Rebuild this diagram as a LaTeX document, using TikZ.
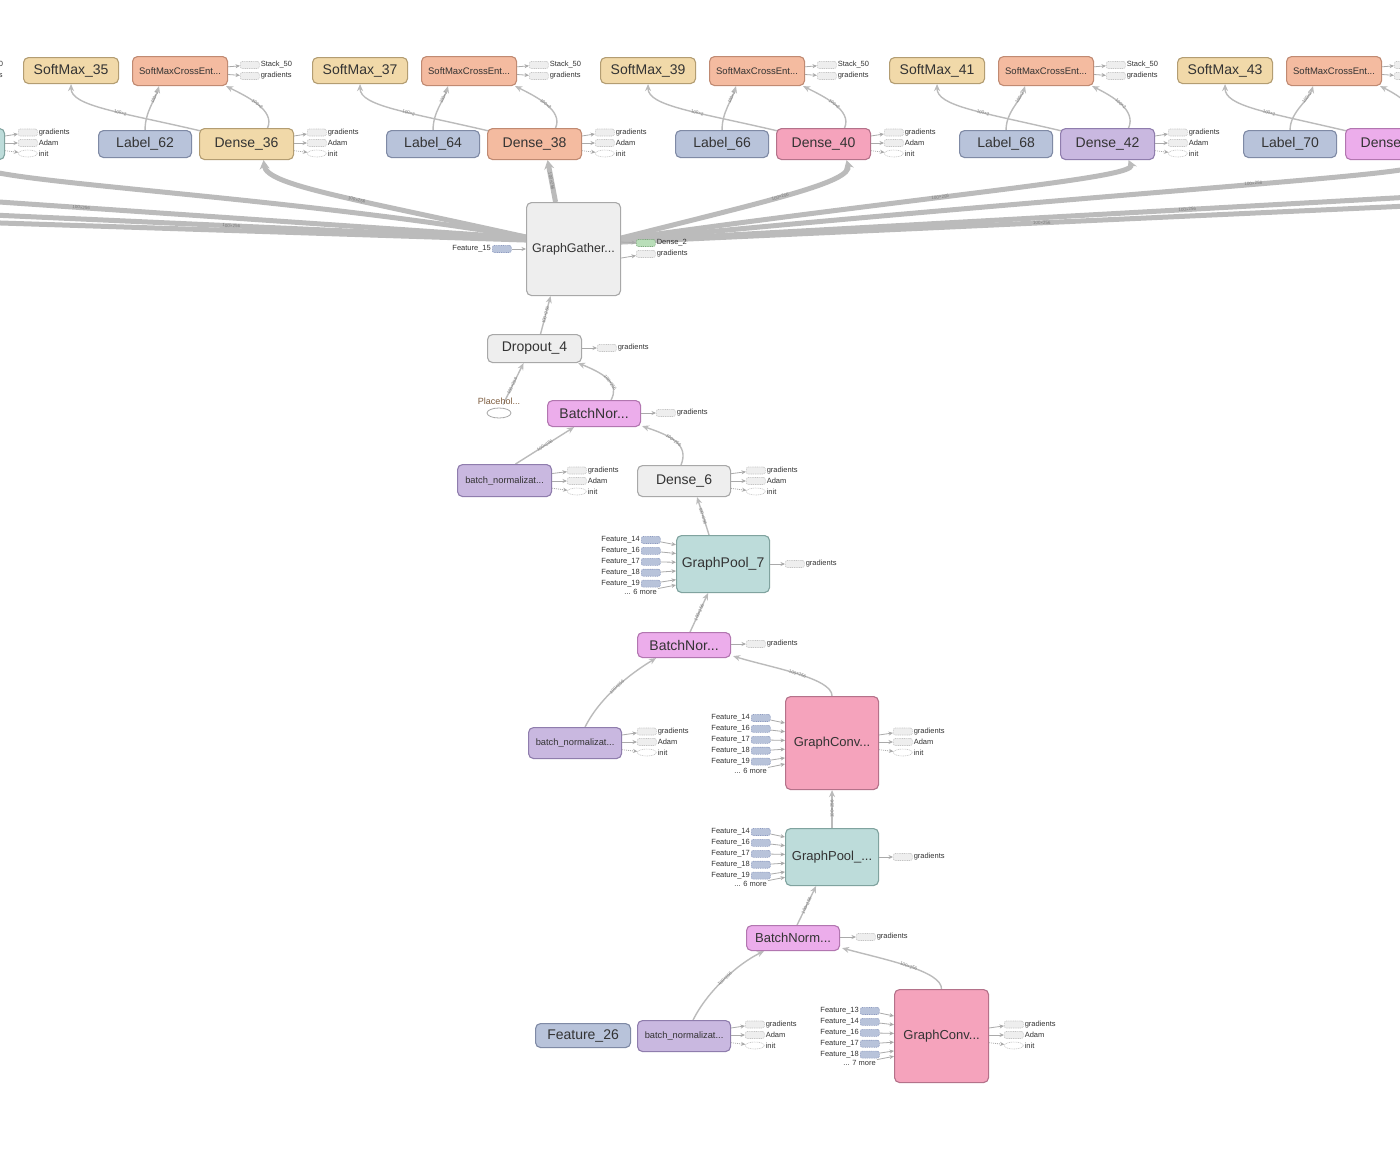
\documentclass[tikz,border=0pt]{standalone}
\usepackage{fontspec}
\setmainfont{Liberation Sans}
\usetikzlibrary{arrows.meta,calc,shapes.geometric}
\pgfdeclarelayer{back}\pgfdeclarelayer{bg}\pgfsetlayers{back,bg,main}
\definecolor{txt}{HTML}{333333}
\definecolor{tanF}{HTML}{F1D9A9}\definecolor{tanD}{HTML}{B39D72}
\definecolor{salF}{HTML}{F4BBA0}\definecolor{salD}{HTML}{C08A72}
\definecolor{lblF}{HTML}{B8C3DA}\definecolor{lblD}{HTML}{7F8AA5}
\definecolor{pinkF}{HTML}{F5A3BC}\definecolor{pinkD}{HTML}{B4728A}
\definecolor{purF}{HTML}{C9B8E0}\definecolor{purD}{HTML}{8F7DAD}
\definecolor{magF}{HTML}{ECADEB}\definecolor{magD}{HTML}{B276B0}
\definecolor{tealF}{HTML}{BDDCDA}\definecolor{tealD}{HTML}{80A39F}
\definecolor{grayF}{HTML}{EEEEEE}\definecolor{grayD}{HTML}{A8A8A8}
\definecolor{stubF}{HTML}{EEEEEE}\definecolor{stubD}{HTML}{C4C4C4}
\definecolor{featF}{HTML}{B8C3DA}\definecolor{featD}{HTML}{8D9BC0}
\definecolor{grnF}{HTML}{B9DEB9}\definecolor{grnD}{HTML}{7DAA7D}
\definecolor{edgeC}{HTML}{BBBBBB}
\definecolor{arrC}{HTML}{AAAAAA}
\definecolor{elabC}{HTML}{7A7A7A}
\definecolor{phC}{HTML}{7D5C3E}
\newcommand\fs[1]{\fontsize{#1}{#1}\selectfont}
\tikzset{
  nbox/.style={draw, rounded corners=5pt, line width=1.1pt, inner sep=0pt, anchor=north west, text=txt, font=\fs{14}},
  tanb/.style={fill=tanF, draw=tanD},
  salb/.style={fill=salF, draw=salD},
  lblb/.style={fill=lblF, draw=lblD},
  pinkb/.style={fill=pinkF, draw=pinkD},
  purb/.style={fill=purF, draw=purD},
  magb/.style={fill=magF, draw=magD},
  tealb/.style={fill=tealF, draw=tealD},
  grayb/.style={fill=grayF, draw=grayD},
  stubg/.style={draw=stubD, fill=stubF, dash pattern=on 1pt off 0.8pt, rounded corners=2pt, minimum width=19pt, minimum height=7pt, inner sep=0pt, line width=0.6pt},
  stubi/.style={ellipse, draw=stubD, fill=white, dash pattern=on 1pt off 0.8pt, minimum width=19pt, minimum height=7pt, inner sep=0pt, line width=0.6pt},
  fstub/.style={stubg, fill=featF, draw=featD},
  gstub/.style={stubg, fill=grnF, draw=grnD},
  slabel/.style={font=\fs{7.5}, text=txt, inner sep=1pt},
  sarrow/.style={draw=arrC, line width=0.8pt, -{Stealth[length=4.5pt,width=4pt]}},
  iarrow/.style={sarrow, dash pattern=on 1pt off 1pt},
  edge/.style={draw=edgeC, line width=1.4pt, -{Stealth[length=7pt,width=6pt]}},
  fatline/.style={draw=edgeC, line width=5pt},
  fatedge/.style={fatline, -{Stealth[length=9pt,width=10pt]}},
  elab/.style={font=\fs{4.5}, text=elabC, sloped, inner sep=0.5pt},
}
% gradients / Adam / init stubs
\newcommand\gai[3]{%
  \node[stubg,anchor=west] (#1g) at (#2,#3-10.5) {};
  \node[stubg,anchor=west] (#1a) at (#2,#3) {};
  \node[stubi,anchor=west] (#1i) at (#2,#3+10.5) {};
  \node[slabel,anchor=west] (#1gl) at (#1g.east) {gradients};
  \node[slabel,anchor=west] (#1al) at (#1a.east) {Adam};
  \node[slabel,anchor=west] (#1il) at (#1i.east) {init};
  \draw[sarrow] ($(#1.east)!0.7!(#1.east |- #1g)$) -- (#1g);
  \draw[sarrow] (#1.east |- #1a) -- (#1a);
  \draw[iarrow] ($(#1.east)!0.7!(#1.east |- #1i)$) -- (#1i);
}
% single gradients stub
\newcommand\gonly[3]{%
  \node[stubg,anchor=west] (#1g) at (#2,#3) {};
  \node[slabel,anchor=west] (#1gl) at (#1g.east) {gradients};
  \draw[sarrow] (#1.east |- #1g) -- (#1g);
}
% feature inputs: #1 node, #2 stub x, #3 first y, #4 list, #5 more text, #6 more y
\newcommand\feats[6]{%
  \foreach \n [count=\i] in {#4} {
    \node[fstub,anchor=west] (#1f\i) at (#2,#3+10.9*\i-10.9) {};
    \node[slabel,anchor=east] (#1fl\i) at (#1f\i.west) {Feature\_\n};
    \draw[sarrow] (#1f\i) -- ($(#1.west)!0.8!(#1.west |- #1f\i)$);
  }
  \node[slabel,anchor=east] (#1m) at (#2+17,#6) {#5};
  \draw[sarrow] (#1m) -- ($(#1.west)!0.75!(#1.west |- #1m)$);
}
% top group: #1 id, #2 softmax x, #3 softmax text, #4 label x, #5 label text, #6 dense x, #7 dense text, #8 dense style, #9 edge label
\newcommand\topgroup[9]{%
  \node[nbox,tanb,minimum width=95pt,minimum height=26pt] (sm#1) at (#2,57) {#3};
  \node[nbox,salb,font=\fs{9.5},minimum width=95pt,minimum height=29pt] (ce#1) at (#2+109,56) {SoftMaxCrossEnt...};
  \node[stubg,anchor=west] (ce#1s) at (#2+217,65) {};
  \node[stubg,anchor=west] (ce#1g) at (#2+217,76) {};
  \node[slabel,anchor=west] (ce#1sl) at (ce#1s.east) {Stack\_50};
  \node[slabel,anchor=west] (ce#1gl) at (ce#1g.east) {gradients};
  \draw[sarrow] ($(ce#1.east)!0.7!(ce#1.east |- ce#1s)$) -- (ce#1s);
  \draw[sarrow] ($(ce#1.east)!0.7!(ce#1.east |- ce#1g)$) -- (ce#1g);
  \node[nbox,lblb,minimum width=93pt,minimum height=27pt] (lb#1) at (#4,130) {#5};
  \node[nbox,#8,minimum width=94pt,minimum height=31pt] (de#1) at (#6,128) {#7};
  \gai{de#1}{#6+108}{143}
  \begin{pgfonlayer}{bg}
    \draw[edge] ($(de#1.north west)+(2,3)$) .. controls +(-81,-19) and +(0,22) .. (sm#1.south) node[elab,pos=0.4]{#9};
    \draw[edge] (lb#1.north) .. controls +(0,-18) and +(-4,14) .. ($(ce#1.south west)+(27,0)$) node[elab,pos=0.72]{#9};
    \draw[edge] ($(de#1.north)+(21,0)$) .. controls +(8,-18) and +(20,10) .. ($(ce#1.south east)+(-2,0)$) node[elab,pos=0.5]{#9};
  \end{pgfonlayer}
}
\begin{document}
\begin{tikzpicture}[x=1pt,y=-1pt]
\useasboundingbox (0,0) rectangle (1400,1162);
\begin{pgfonlayer}{back}
  \fill[white] (0,0) rectangle (1400,1162);
\end{pgfonlayer}

% ---------- top groups ----------
\topgroup{A}{-266}{SoftMax\_33}{-191}{Label\_60}{-90}{Dense\_34}{tealb}{}
\topgroup{B}{23}{SoftMax\_35}{98}{Label\_62}{199}{Dense\_36}{tanb}{100×2}
\topgroup{C}{312}{SoftMax\_37}{386}{Label\_64}{487}{Dense\_38}{salb}{100×2}
\topgroup{D}{600}{SoftMax\_39}{675}{Label\_66}{776}{Dense\_40}{pinkb}{100×2}
\topgroup{E}{889}{SoftMax\_41}{959}{Label\_68}{1060}{Dense\_42}{purb}{100×2}
\topgroup{F}{1177}{SoftMax\_43}{1243}{Label\_70}{1345}{Dense\_44}{magb}{100×2}

% ---------- GraphGather ----------
\node[nbox,grayb,font=\fs{12.5},minimum width=94pt,minimum height=93pt] (gg) at (526,202) {GraphGather...};
\node[fstub,anchor=west] (ggf) at (492,249) {};
\node[slabel,anchor=east] (ggfl) at (ggf.west) {Feature\_15};
\draw[sarrow] (ggf) -- (gg.west |- ggf);
\node[gstub,anchor=west] (ggd) at (636,243) {};
\node[slabel,anchor=west] (ggdl) at (ggd.east) {Dense\_2};
\node[stubg,anchor=west] (ggg) at (636,254) {};
\node[slabel,anchor=west] (gggl) at (ggg.east) {gradients};
\draw[sarrow] ($(gg.east)+(0,-7)$) -- (ggd);
\draw[sarrow] ($(gg.east)+(0,9)$) -- (ggg);

\coordinate (offL1) at (-30,200);
\coordinate (offL2) at (-30,214);
\coordinate (offL3) at (-30,222);
\coordinate (offR1) at (1430,196);
\coordinate (offR2) at (1430,205);

\begin{pgfonlayer}{bg}
  % left fan
  \draw[fatedge] ($(gg.west)+(0,-12)$) .. controls +(-250,-42) and +(8,22) .. ($(deA.south)+(17,0)$);
  \draw[fatline] ($(gg.west)+(0,-11)$) -- (offL1) node[elab,pos=0.8]{100×256};
  \draw[fatline] ($(gg.west)+(0,-10)$) -- (offL2) node[elab,pos=0.53]{100×256};
  \draw[fatline] ($(gg.west)+(0,-9)$) -- (offL3);
  \draw[fatedge] ($(gg.west)+(0,-12)$) .. controls +(-180,-40) and +(3,25) .. ($(deB.south)+(17,0)$) node[elab,pos=0.4]{100×256};
  % up
  \draw[fatedge] ($(gg.north)+(-18,0)$) -- ($(deC.south)+(13,0)$) node[elab,pos=0.5]{100×256};
  % right fan
  \draw[fatedge] ($(gg.east)+(0,-11)$) .. controls +(150,-38) and +(6,22) .. ($(deD.south)+(23,0)$) node[elab,pos=0.45]{100×256};
  \draw[fatedge] ($(gg.east)+(0,-10)$) .. controls +(320,-45) and +(8,18) .. ($(deE.south)+(21,0)$) node[elab,pos=0.4]{100×256};
  \draw[fatedge] ($(gg.east)+(0,-9)$) .. controls +(520,-50) and +(6,15) .. ($(deF.south)+(22,0)$) node[elab,pos=0.55]{100×256};
  \draw[fatline] ($(gg.east)+(0,-8)$) -- (offR1) node[elab,pos=0.7]{100×256};
  \draw[fatline] ($(gg.east)+(0,-7)$) -- (offR2) node[elab,pos=0.52]{100×256};
\end{pgfonlayer}

% ---------- middle chain ----------
\node[nbox,grayb,minimum width=94pt,minimum height=28pt] (do) at (487,334) {Dropout\_4};
\gonly{do}{597}{348}
\node[font=\fs{9},text=phC,inner sep=0pt] (phl) at (499,401) {Placehol...};
\node[ellipse,draw=grayD,fill=white,line width=0.8pt,minimum width=24pt,minimum height=10pt,inner sep=0pt] (ph) at (499,413) {};

\node[nbox,magb,minimum width=93pt,minimum height=26pt] (bn1) at (547,400) {BatchNor...};
\gonly{bn1}{656}{413}
\node[nbox,purb,font=\fs{9.3},minimum width=94pt,minimum height=32pt] (bv1) at (457,464) {batch\_normalizat...};
\gai{bv1}{567}{481}
\node[nbox,grayb,minimum width=93pt,minimum height=31pt] (d6) at (637,465) {Dense\_6};
\gai{d6}{746}{481}

\node[nbox,tealb,minimum width=93pt,minimum height=57pt] (gp7) at (676,535) {GraphPool\_7};
\gonly{gp7}{785}{564}
\feats{gp7}{641}{540}{14,16,17,18,19}{... 6 more}{592}

\node[nbox,magb,minimum width=93pt,minimum height=25pt] (bn2) at (637,632) {BatchNor...};
\gonly{bn2}{746}{644}
\node[nbox,purb,font=\fs{9.3},minimum width=93pt,minimum height=31pt] (bv2) at (528,727) {batch\_normalizat...};
\gai{bv2}{637}{742}
\node[nbox,pinkb,font=\fs{13},minimum width=93pt,minimum height=93pt] (gc1) at (785,696) {GraphConv...};
\gai{gc1}{893}{742}
\feats{gc1}{751}{718}{14,16,17,18,19}{... 6 more}{771}

\node[nbox,tealb,font=\fs{13},minimum width=93pt,minimum height=57pt] (gp2) at (785,828) {GraphPool\_...};
\gonly{gp2}{893}{857}
\feats{gp2}{751}{832}{14,16,17,18,19}{... 6 more}{884}

\node[nbox,magb,font=\fs{13},minimum width=93pt,minimum height=25pt] (bn3) at (746,925) {BatchNorm...};
\gonly{bn3}{856}{937}
\node[nbox,lblb,minimum width=95pt,minimum height=24pt] (f26) at (535,1023) {Feature\_26};
\node[nbox,purb,font=\fs{9.3},minimum width=93pt,minimum height=31pt] (bv3) at (637,1020) {batch\_normalizat...};
\gai{bv3}{745}{1035}
\node[nbox,pinkb,font=\fs{13},minimum width=94pt,minimum height=93pt] (gc2) at (894,989) {GraphConv...};
\gai{gc2}{1004}{1035}
\feats{gc2}{860}{1011}{13,14,16,17,18}{... 7 more}{1063}

\begin{pgfonlayer}{bg}
  \draw[edge] ($(do.north)+(6,0)$) -- ($(gg.south)+(-23,0)$) node[elab,pos=0.5]{100×256};
  \draw[edge] ($(ph.north)+(4,-3)$) -- ($(do.south)+(-11,0)$) node[elab,pos=0.45]{100×256};
  \draw[edge] ($(bn1.north)+(17,0)$) .. controls +(8,-15) and +(30,12) .. ($(do.south east)+(-4,0)$) node[elab,pos=0.45]{100×256};
  \draw[edge] ($(bv1.north)+(11,0)$) -- ($(bn1.south)+(-20,0)$) node[elab,pos=0.5]{100×256};
  \draw[edge] ($(d6.north)+(-3,0)$) .. controls +(8,-20) and +(30,10) .. ($(bn1.south east)+(1,-1)$) node[elab,pos=0.55]{100×256};
  \draw[edge] ($(gp7.north)+(-14,0)$) -- ($(d6.south)+(13,0)$) node[elab,pos=0.5]{100×256};
  \draw[edge] ($(bn2.north)+(6,0)$) -- ($(gp7.south)+(-15,0)$) node[elab,pos=0.5]{100×256};
  \draw[edge] ($(bv2.north)+(10,0)$) .. controls +(15,-30) and +(-25,15) .. ($(bn2.south)+(-28,0)$) node[elab,pos=0.5]{100×256};
  \draw[edge] (gc1.north) .. controls +(0,-18) and +(40,12) .. ($(bn2.south east)+(2,-2)$) node[elab,pos=0.5]{100×256};
  \draw[edge] (gp2.north) -- (gc1.south) node[elab,pos=0.5]{100×256};
  \draw[edge] ($(bn3.north)+(4,0)$) -- ($(gp2.south)+(-16,0)$) node[elab,pos=0.5]{100×256};
  \draw[edge] ($(bv3.north)+(9,0)$) .. controls +(15,-30) and +(-25,12) .. ($(bn3.south)+(-29,0)$) node[elab,pos=0.5]{100×256};
  \draw[edge] (gc2.north) .. controls +(0,-18) and +(45,12) .. ($(bn3.south east)+(2,-3)$) node[elab,pos=0.5]{100×256};
\end{pgfonlayer}
\end{tikzpicture}
\end{document}
